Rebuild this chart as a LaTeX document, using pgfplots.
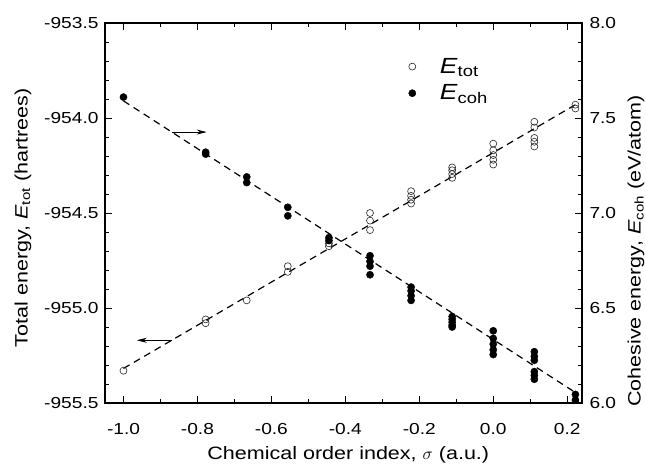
\documentclass[border=0pt]{standalone}
\usepackage{fontspec}
\setmainfont[FakeStretch=1.2]{Liberation Sans}
\usepackage{pgfplots}
\pgfplotsset{compat=1.18}
\usetikzlibrary{arrows.meta}

\pgfplotstableread{
s e
-1.0000 -955.330
-0.7778 -955.060
-0.7778 -955.080
-0.6667 -954.960
-0.5556 -954.780
-0.5556 -954.810
-0.4444 -954.660
-0.4444 -954.675
-0.3333 -954.500
-0.3333 -954.540
-0.3333 -954.590
-0.2222 -954.385
-0.2222 -954.410
-0.2222 -954.430
-0.2222 -954.450
-0.1111 -954.260
-0.1111 -954.275
-0.1111 -954.295
-0.1111 -954.315
0.0000 -954.135
0.0000 -954.170
0.0000 -954.195
0.0000 -954.220
0.0000 -954.245
0.1111 -954.020
0.1111 -954.050
0.1111 -954.105
0.1111 -954.125
0.1111 -954.150
0.2222 -953.930
0.2222 -953.950
}\etot

\pgfplotstableread{
s c
-1.0000 7.610
-0.7778 7.320
-0.7778 7.310
-0.6667 7.190
-0.6667 7.160
-0.5556 7.030
-0.5556 6.985
-0.4444 6.870
-0.4444 6.855
-0.3333 6.775
-0.3333 6.745
-0.3333 6.720
-0.3333 6.675
-0.2222 6.610
-0.2222 6.590
-0.2222 6.565
-0.2222 6.540
-0.1111 6.455
-0.1111 6.440
-0.1111 6.425
-0.1111 6.410
-0.1111 6.400
0.0000 6.380
0.0000 6.340
0.0000 6.310
0.0000 6.280
0.0000 6.255
0.1111 6.270
0.1111 6.245
0.1111 6.225
0.1111 6.165
0.1111 6.145
0.1111 6.125
0.2222 6.045
0.2222 6.015
}\ecoh

\begin{document}
\begin{tikzpicture}
\pgfplotsset{
  common/.style={
    scale only axis, width=477bp, height=380bp,
    xmin=-1.05, xmax=0.24,
    tick align=inside,
    major tick length=7bp, minor tick length=4bp,
    every tick/.style={black, line width=0.8bp},
    axis line style={black, line width=1.1bp},
    tick label style={font=\fontsize{16}{18}\selectfont},
    label style={font=\fontsize{18}{21}\selectfont},
    /pgf/number format/assume math mode=true,
    /pgf/number format/fixed,
    /pgf/number format/fixed zerofill,
    /pgf/number format/precision=1,
  },
  omark/.style={only marks, mark=o, mark size=3.5bp, mark options={draw=black!85, line width=0.6bp}},
  fmark/.style={only marks, mark=*, mark size=3.6bp, mark options={draw=black, fill=black}},
  fitline/.style={black, line width=1.2bp, dash pattern=on 7bp off 5bp, no marks},
}
\begin{axis}[common, name=ax, clip=false,
  ymin=-955.5, ymax=-953.5,
  ytick={-955.5,-955.0,-954.5,-954.0,-953.5},
  minor y tick num=4,
  xtick={-1,-0.8,-0.6,-0.4,-0.2,0,0.2},
  minor x tick num=1,
  xtick pos=both, xticklabel pos=lower,
  ytick pos=left,
  xticklabel style={yshift=-17bp},
  yticklabel style={xshift=-3bp},
  xlabel={Chemical order index, $\sigma$\ (a.u.)},
  xlabel style={at={(axis description cs:0.51,-0.150)}, anchor=base},
  ylabel={Total energy, \textit{E}\textsubscript{tot} (hartrees)},
  ylabel style={at={(axis description cs:-0.172,0.487)}, anchor=center, rotate=0},
]
\addplot[omark] table[x=s, y=e] {\etot};
\addplot[fitline] coordinates {(-1.0,-955.318) (0.2222,-953.930)};
\draw[black, line width=0.8bp, -{Stealth[length=10bp,width=5bp]}] (axis cs:-0.870,-954.074) -- (axis cs:-0.775,-954.074);
\draw[black, line width=0.8bp, -{Stealth[length=10bp,width=5bp]}] (axis cs:-0.868,-955.170) -- (axis cs:-0.964,-955.170);
\end{axis}
\begin{axis}[common,
  ymin=6, ymax=8,
  axis y line*=right, axis x line=none,
  ytick={6.0,6.5,7.0,7.5,8.0},
  minor y tick num=4,
  yticklabel style={xshift=4bp},
  ylabel={Cohesive energy, \textit{E}\textsubscript{coh} (eV/atom)},
  ylabel style={at={(axis description cs:1.113,0.40)}, anchor=center, rotate=0},
  legend style={at={(axis description cs:0.630,0.918)}, anchor=north west, draw=none, fill=none,
    font=\fontsize{22}{26}\selectfont, row sep=6bp},
  legend cell align=left,
]
\addlegendimage{omark}
\addlegendentry{\hspace*{22bp}\textit{E}\textsubscript{tot}}
\addplot[fmark] table[x=s, y=c] {\ecoh};
\addlegendentry{\hspace*{22bp}\textit{E}\textsubscript{coh}}
\addplot[fitline, forget plot] coordinates {(-1.0,7.590) (0.2222,6.055)};
\end{axis}
\pgfresetboundingbox
\path ([xshift=-105bp,yshift=-61bp]ax.south west) rectangle ([xshift=64bp,yshift=23bp]ax.north east);
\end{tikzpicture}
\end{document}
